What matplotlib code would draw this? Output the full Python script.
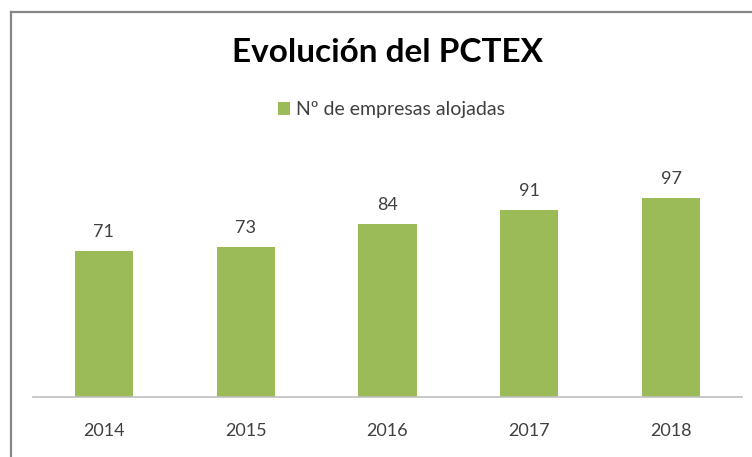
import matplotlib
matplotlib.use("Agg")
import matplotlib.pyplot as plt
from matplotlib.lines import Line2D

years = ["2014", "2015", "2016", "2017", "2018"]
empresas = [71, 73, 84, 91, 97]
series_name = "Nº de empresas alojadas"
title = "Evolución del PCTEX"

W, H = 752, 457
fig = plt.figure(figsize=(W / 100, H / 100), dpi=100)
plt.rcParams['font.family'] = ['Lato', 'DejaVu Sans']

ax = fig.add_axes([33 / W, (H - 397) / H, (742 - 33) / W, (397 - 150.4) / H])
x = range(len(years))
bars = ax.bar(x, empresas, width=0.41, color="#9BBB59", label=series_name, zorder=2)
ax.set_xlim(-0.5, len(years) - 0.5)
ax.set_ylim(0, 120)
ax.set_xticks(list(x))
ax.set_xticklabels(years, fontsize=13, color="#404040")
ax.tick_params(axis="x", length=0, pad=19)
ax.set_yticks([])
for s in ["top", "right", "left"]:
    ax.spines[s].set_visible(False)
ax.spines["bottom"].set_color("#BFBFBF")
ax.spines["bottom"].set_linewidth(1.2)
ax.bar_label(bars, padding=8, fontsize=13, color="#404040")

fig.text(387 / W, 1 - 52 / H, title, ha="center", va="center",
         fontsize=24, fontweight="bold", color="#000000")

fig.legend(handles=[bars], labels=[series_name], loc="center",
           bbox_to_anchor=(391.5 / W, 1 - 110 / H), frameon=False,
           fontsize=14, handlelength=0.6, handleheight=0.6,
           handletextpad=0.3, labelcolor="#404040")

# outer chart border (partially cropped)
fig.add_artist(Line2D([11 / W, 11 / W], [1 - 12 / H, -0.02], transform=fig.transFigure,
                      color="#868686", lw=1.6))
fig.add_artist(Line2D([11 / W, 1.02], [1 - 12 / H, 1 - 12 / H], transform=fig.transFigure,
                      color="#868686", lw=1.6))

fig.savefig("out.png", dpi=100, facecolor="white")
